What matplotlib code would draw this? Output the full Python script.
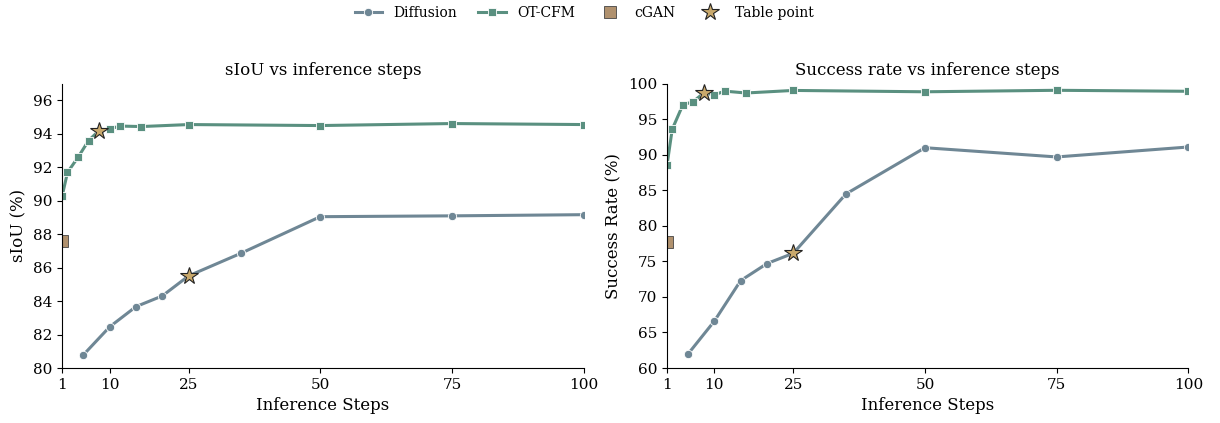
import matplotlib
matplotlib.use("Agg")
import matplotlib.pyplot as plt
from matplotlib.lines import Line2D

plt.rcParams['font.family'] = ['DejaVu Serif']

# diffusion sweep
diff_steps = [5, 10, 15, 20, 25, 35, 50, 75, 100]
diff_siou = [80.78, 82.46, 83.67, 84.31, 85.51, 86.87, 89.05, 89.10, 89.17]
diff_succ = [61.97, 66.6, 72.3, 74.7, 76.15, 84.5, 91.0, 89.7, 91.1]

# OT-CFM sweep
ot_steps = [1, 2, 4, 6, 8, 10, 12, 16, 25, 50, 75, 100]
ot_siou = [90.3, 91.7, 92.6, 93.6, 94.2, 94.3, 94.47, 94.44, 94.56, 94.5, 94.62, 94.56]
ot_succ = [88.5, 93.6, 97.0, 97.5, 98.7, 98.45, 98.96, 98.7, 99.06, 98.87, 99.08, 98.94]

# single-step cGAN
cgan_step = 1
cgan_siou = 87.6
cgan_succ = 77.8

# points reported in the table
table_ot_step = 8
table_diff_step = 25

c_diff = '#6f8795'
c_ot = '#5a9080'
c_gan = '#b0916e'
c_star = '#c9a96c'

xticks = [1, 10, 25, 50, 75, 100]

fig, axes = plt.subplots(1, 2, figsize=(12.2, 4.23), dpi=100)

panels = [
    (axes[0], diff_siou, ot_siou, cgan_siou, 'sIoU vs inference steps', 'sIoU (%)', (80, 97), [80, 82, 84, 86, 88, 90, 92, 94, 96]),
    (axes[1], diff_succ, ot_succ, cgan_succ, 'Success rate vs inference steps', 'Success Rate (%)', (60, 100), [60, 65, 70, 75, 80, 85, 90, 95, 100]),
]

for ax, dv, ov, gv, title, ylabel, ylim, yticks in panels:
    ax.plot(diff_steps, dv, color=c_diff, lw=2.2, marker='o', ms=6,
            mec='white', mew=0.6)
    ax.plot(ot_steps, ov, color=c_ot, lw=2.2, marker='s', ms=6,
            mec='white', mew=0.6)
    ax.plot([cgan_step], [gv], ls='none', marker='s', ms=8, color=c_gan,
            mec='#444444', mew=0.6)
    ax.plot([table_ot_step], [ov[ot_steps.index(table_ot_step)]], ls='none',
            marker='*', ms=13, color=c_star, mec='#222222', mew=0.8, zorder=5)
    ax.plot([table_diff_step], [dv[diff_steps.index(table_diff_step)]], ls='none',
            marker='*', ms=13, color=c_star, mec='#222222', mew=0.8, zorder=5)
    ax.set_xlim(1, 100)
    ax.set_ylim(*ylim)
    ax.set_xticks(xticks)
    ax.set_yticks(yticks)
    ax.set_title(title, fontsize=12)
    ax.set_xlabel('Inference Steps', fontsize=12)
    ax.set_ylabel(ylabel, fontsize=12)
    ax.tick_params(labelsize=11)
    ax.spines['top'].set_visible(False)
    ax.spines['right'].set_visible(False)

handles = [
    Line2D([], [], color=c_diff, lw=2.2, marker='o', ms=6, mec='white', mew=0.6),
    Line2D([], [], color=c_ot, lw=2.2, marker='s', ms=6, mec='white', mew=0.6),
    Line2D([], [], ls='none', marker='s', ms=8, color=c_gan, mec='#444444', mew=0.6),
    Line2D([], [], ls='none', marker='*', ms=13, color=c_star, mec='#222222', mew=0.8),
]
fig.legend(handles, ['Diffusion', 'OT-CFM', 'cGAN', 'Table point'],
           loc='upper center', ncol=4, frameon=False, fontsize=10,
           columnspacing=1.5, bbox_to_anchor=(0.479, 1.015))

fig.subplots_adjust(left=0.051, right=0.974, bottom=0.13, top=0.802, wspace=0.16)
fig.savefig('out.png')
